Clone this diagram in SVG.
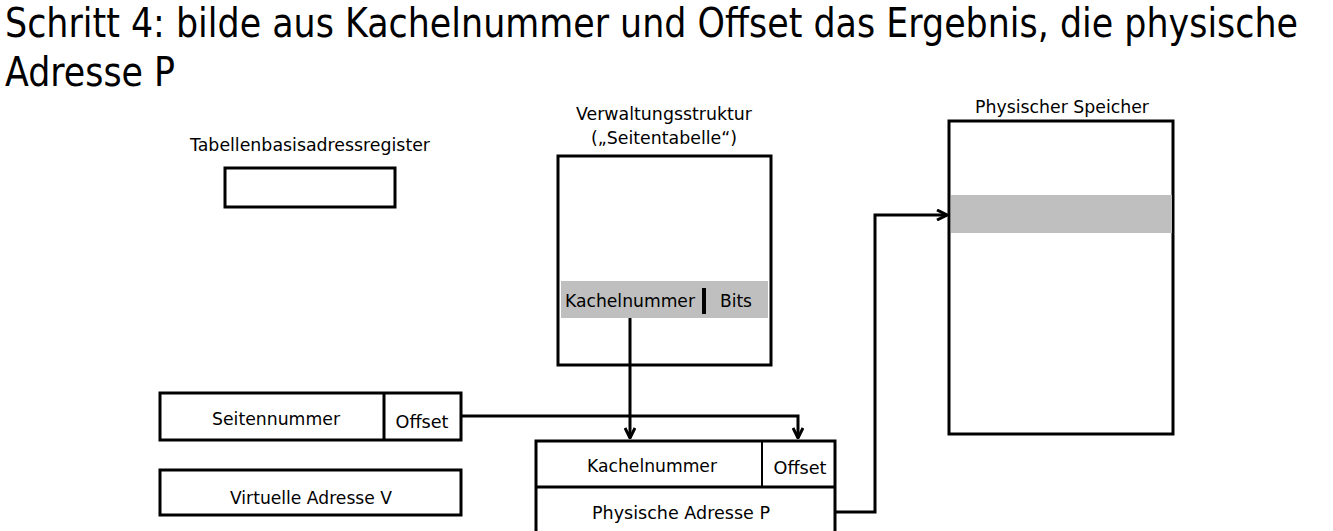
<svg xmlns="http://www.w3.org/2000/svg" width="1333" height="531" viewBox="0 0 1333 531">
<defs>
<style>
text{font-family:"DejaVu Sans","Liberation Sans",sans-serif;fill:#000}
.box{fill:#fff;stroke:#000;stroke-width:3}
.ln{fill:none;stroke:#000;stroke-width:3}
.band{fill:#bfbfbf}
.lbl{font-size:17px;text-anchor:middle}
.conn{fill:none;stroke:#000;stroke-width:3;marker-end:url(#ah)}
</style>
<marker id="ah" viewBox="0 0 12 12" refX="11" refY="6" markerWidth="12" markerHeight="12" markerUnits="userSpaceOnUse" orient="auto">
<polyline points="1,1 11,6 1,11" fill="none" stroke="#000" stroke-width="3"/>
</marker>
</defs>
<rect width="1333" height="531" fill="#fff"/>
<g id="title">
<text x="5" y="37" font-size="40" textLength="1293" lengthAdjust="spacingAndGlyphs">Schritt 4: bilde aus Kachelnummer und Offset das Ergebnis, die physische</text>
<text x="5" y="86" font-size="40" textLength="170" lengthAdjust="spacingAndGlyphs">Adresse P</text>
</g>
<g id="tbar">
<text class="lbl" x="310" y="151" textLength="240" lengthAdjust="spacingAndGlyphs">Tabellenbasisadressregister</text>
<rect class="box" x="225" y="168" width="170" height="39"/>
</g>
<g id="seitentabelle">
<text class="lbl" x="664" y="120" textLength="176" lengthAdjust="spacingAndGlyphs">Verwaltungsstruktur</text>
<text class="lbl" x="664" y="144" textLength="146" lengthAdjust="spacingAndGlyphs">(„Seitentabelle“)</text>
<rect class="box" x="558" y="156" width="213" height="209"/>
<rect class="band" x="561" y="281" width="207" height="37"/>
<text x="565" y="307" font-size="18" textLength="130" lengthAdjust="spacingAndGlyphs">Kachelnummer</text>
<line x1="704" y1="288" x2="704" y2="314" stroke="#000" stroke-width="4"/>
<text x="720" y="307" font-size="18" textLength="32" lengthAdjust="spacingAndGlyphs">Bits</text>
</g>
<g id="speicher">
<text class="lbl" x="1062" y="113" textLength="174" lengthAdjust="spacingAndGlyphs">Physischer Speicher</text>
<rect class="box" x="949" y="121" width="224" height="313"/>
<rect class="band" x="951" y="195" width="221" height="38"/>
</g>
<g id="virt">
<rect class="box" x="160" y="393" width="301" height="47"/>
<line class="ln" x1="384" y1="393" x2="384" y2="440"/>
<text class="lbl" x="276" y="425" textLength="128" lengthAdjust="spacingAndGlyphs">Seitennummer</text>
<text class="lbl" x="422" y="428" textLength="53" lengthAdjust="spacingAndGlyphs">Offset</text>
<rect class="box" x="160" y="470" width="301" height="45"/>
<text class="lbl" x="311" y="504" textLength="162" lengthAdjust="spacingAndGlyphs">Virtuelle Adresse V</text>
</g>
<g id="phys">
<rect class="box" x="536" y="441" width="299" height="100"/>
<line class="ln" x1="536" y1="487" x2="835" y2="487"/>
<line x1="762" y1="441" x2="762" y2="487" stroke="#000" stroke-width="2"/>
<text class="lbl" x="652" y="472" textLength="130" lengthAdjust="spacingAndGlyphs">Kachelnummer</text>
<text class="lbl" x="800" y="474" textLength="53" lengthAdjust="spacingAndGlyphs">Offset</text>
<text class="lbl" x="681" y="519" textLength="178" lengthAdjust="spacingAndGlyphs">Physische Adresse P</text>
</g>
<g id="connectors">
<polyline class="conn" points="630,318 630,438"/>
<polyline class="conn" points="461,416 798,416 798,438"/>
<polyline class="conn" points="835,512 875,512 875,215 947,215"/>
</g>
</svg>
